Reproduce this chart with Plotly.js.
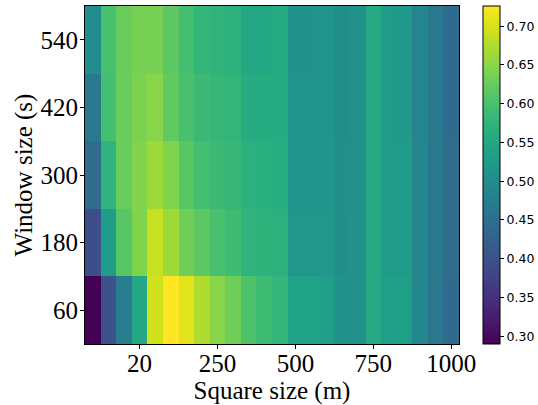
<!DOCTYPE html>
<html><head><meta charset="utf-8"><script src="https://cdn.plot.ly/plotly-3.0.1.min.js"></script>
<style>html,body{margin:0;padding:0;background:#fff}</style></head>
<body><div id="c" style="width:538px;height:405px"></div>
<script>
const squareTickLabels = ['20','250','500','750','1000'];
const squareTickIndex = [3,8,13,18,23];
const windowLabels = ['60','180','300','420','540'];
const columnIndex = [0,1,2,3,4,5,6,7,8,9,10,11,12,13,14,15,16,17,18,19,20,21,22,23];
const row60  = [0.290,0.400,0.473,0.550,0.695,0.726,0.708,0.674,0.648,0.630,0.604,0.590,0.578,0.540,0.540,0.535,0.512,0.512,0.556,0.533,0.533,0.490,0.462,0.442];
const row180 = [0.395,0.530,0.612,0.643,0.690,0.663,0.630,0.617,0.600,0.590,0.573,0.571,0.568,0.520,0.520,0.520,0.506,0.510,0.556,0.528,0.526,0.490,0.464,0.444];
const row300 = [0.443,0.573,0.626,0.645,0.663,0.643,0.613,0.595,0.587,0.582,0.567,0.565,0.562,0.517,0.517,0.517,0.505,0.509,0.555,0.527,0.525,0.488,0.464,0.443];
const row420 = [0.464,0.595,0.626,0.640,0.648,0.620,0.600,0.587,0.582,0.576,0.558,0.560,0.558,0.514,0.514,0.516,0.504,0.508,0.555,0.526,0.524,0.487,0.465,0.442];
const row540 = [0.500,0.600,0.626,0.635,0.635,0.617,0.595,0.578,0.574,0.570,0.552,0.552,0.556,0.512,0.512,0.516,0.504,0.508,0.555,0.526,0.524,0.487,0.465,0.442];
const serif = 'Liberation Serif';
Plotly.newPlot('c',[{
  type:'heatmap',x:columnIndex,y:windowLabels.map((_,i)=>i),
  z:[row60,row180,row300,row420,row540],
  colorscale:'Viridis',zmin:0.29,zmax:0.726,zsmooth:false,
  colorbar:{x:1.064,xanchor:'left',xpad:0,ypad:0,y:0,yanchor:'bottom',len:1,thickness:17,
    outlinewidth:1,outlinecolor:'#000',tickmode:'linear',tick0:0.3,dtick:0.05,tickformat:'.2f',
    ticks:'outside',ticklen:4,tickwidth:1,tickcolor:'#000',
    tickfont:{family:'DejaVu Sans',size:12.5,color:'#000'}}
}],{
  width:538,height:405,margin:{l:85,r:79,t:6,b:61,autoexpand:false},paper_bgcolor:'#fff',plot_bgcolor:'#fff',
  font:{family:serif,color:'#000'},
  xaxis:{range:[-0.5,23.5],tickmode:'array',tickvals:squareTickIndex,ticktext:squareTickLabels,
    ticks:'outside',ticklen:4,tickwidth:1,tickcolor:'#000',showgrid:false,zeroline:false,
    showline:true,mirror:true,linecolor:'#000',linewidth:1,ticklabelstandoff:-7,
    tickfont:{family:serif,size:25,color:'#000'},
    title:{text:'Square size (m)',font:{family:serif,size:25,color:'#000'},standoff:0}},
  yaxis:{range:[-0.5,4.5],tickmode:'array',tickvals:[0,1,2,3,4],ticktext:windowLabels,
    ticks:'outside',ticklen:4,tickwidth:1,tickcolor:'#000',showgrid:false,zeroline:false,
    showline:true,mirror:true,linecolor:'#000',linewidth:1,ticklabelstandoff:-3,
    tickfont:{family:serif,size:25,color:'#000'},
    title:{text:'Window size (s)',font:{family:serif,size:25,color:'#000'},standoff:0}}
},{displayModeBar:false,staticPlot:true});
</script></body></html>
